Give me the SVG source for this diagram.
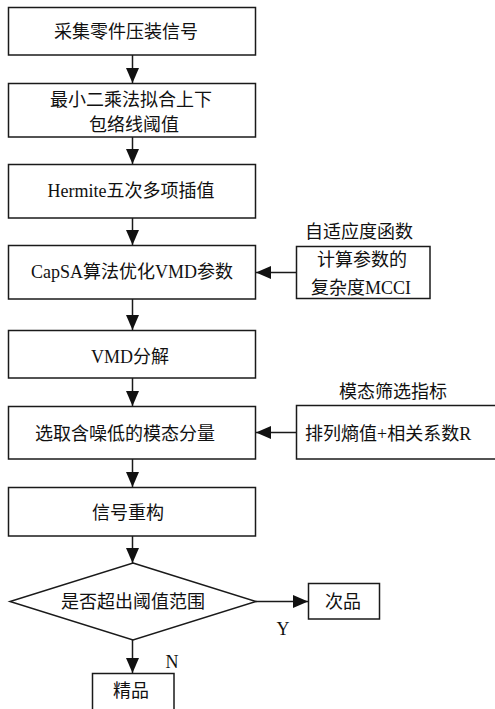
<svg xmlns="http://www.w3.org/2000/svg" width="495" height="709" viewBox="0 0 495 709">
<style>
.box{fill:#fff;stroke:#1a1a1a;stroke-width:1.5}
.ln{fill:none;stroke:#1a1a1a;stroke-width:1.5}
text{font-family:"Liberation Serif","Noto Sans CJK SC",serif;font-size:18px;fill:#111;text-anchor:middle}
.l{text-anchor:start}
</style>
<defs>
<marker id="ah" markerUnits="userSpaceOnUse" markerWidth="15" markerHeight="13" refX="15" refY="6.5" orient="auto">
<path d="M0,0 L15,6.5 L0,13 z" fill="#111"/>
</marker>
</defs>
<rect width="495" height="709" fill="#fff"/>
<g id="n1"><rect class="box" x="8.5" y="7.5" width="247" height="47.5"/><text x="126" y="38">采集零件压装信号</text></g>
<g id="n2"><rect class="box" x="8.5" y="83.5" width="247" height="53.5"/><text x="131" y="106">最小二乘法拟合上下</text><text x="134" y="131">包络线阈值</text></g>
<g id="n3"><rect class="box" x="8.5" y="164.5" width="247" height="53.5"/><text x="131" y="197">Hermite五次多项插值</text></g>
<g id="n4"><rect class="box" x="8.5" y="245.5" width="247" height="53.5"/><text x="132" y="278">CapSA算法优化VMD参数</text></g>
<g id="s1"><text x="359" y="238">自适应度函数</text><rect class="box" x="296.5" y="246.5" width="133.5" height="52"/><text x="362" y="266">计算参数的</text><text x="361" y="294">复杂度MCCI</text></g>
<g id="n5"><rect class="box" x="8.5" y="330.5" width="247" height="47.5"/><text x="130" y="363">VMD分解</text></g>
<g id="n6"><rect class="box" x="8.5" y="406.5" width="247" height="52.5"/><text x="125" y="440">选取含噪低的模态分量</text></g>
<g id="s2"><text x="393" y="398">模态筛选指标</text><rect class="box" x="296.5" y="405.5" width="210" height="53.5"/><text class="l" x="305" y="440">排列熵值+相关系数R</text></g>
<g id="n7"><rect class="box" x="8.5" y="487.5" width="247" height="48.5"/><text x="128" y="519">信号重构</text></g>
<g id="d1"><polygon class="box" points="133,563 256,601.5 133,640 10,601.5"/><text x="133" y="608">是否超出阈值范围</text></g>
<g id="n8"><rect class="box" x="308.5" y="583.5" width="71" height="35.5"/><text x="343" y="608">次品</text></g>
<g id="n9"><rect class="box" x="92.5" y="673.5" width="81.5" height="40"/><text x="131" y="697">精品</text></g>
<g id="connectors">
<line class="ln" x1="132.5" y1="55" x2="132.5" y2="83" marker-end="url(#ah)"/>
<line class="ln" x1="132.5" y1="137" x2="132.5" y2="164" marker-end="url(#ah)"/>
<line class="ln" x1="132.5" y1="218" x2="132.5" y2="245" marker-end="url(#ah)"/>
<line class="ln" x1="132.5" y1="299" x2="132.5" y2="330" marker-end="url(#ah)"/>
<line class="ln" x1="132.5" y1="378" x2="132.5" y2="406" marker-end="url(#ah)"/>
<line class="ln" x1="132.5" y1="459" x2="132.5" y2="487" marker-end="url(#ah)"/>
<line class="ln" x1="132.5" y1="536" x2="132.5" y2="563" marker-end="url(#ah)"/>
<line class="ln" x1="132.5" y1="640" x2="132.5" y2="673" marker-end="url(#ah)"/>
<line class="ln" x1="296.5" y1="272.5" x2="256" y2="272.5" marker-end="url(#ah)"/>
<line class="ln" x1="296.5" y1="432.5" x2="256" y2="432.5" marker-end="url(#ah)"/>
<line class="ln" x1="256" y1="601.5" x2="308" y2="601.5" marker-end="url(#ah)"/>
<text x="283" y="635">Y</text>
<text x="172" y="668">N</text>
</g>
</svg>
